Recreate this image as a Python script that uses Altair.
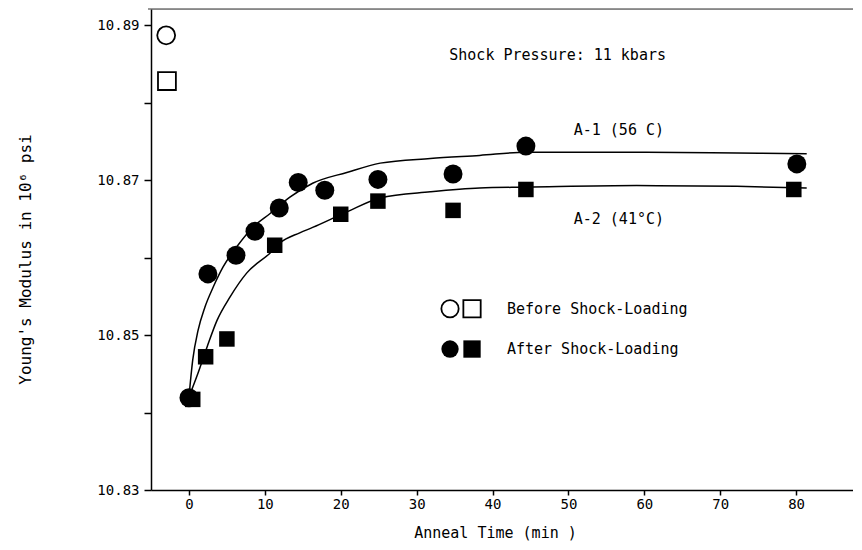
import altair as alt
import pandas as pd

# ---- data ----
# After shock-loading, A-1 (56 C) : circles
a1_time = [0.0, 2.5, 6.2, 8.7, 11.9, 14.4, 17.9, 24.9, 34.8, 44.4, 80.1]
a1_mod = [10.8419, 10.8579, 10.8603, 10.8634, 10.8664, 10.8697, 10.8687, 10.8701, 10.8708, 10.8744, 10.8721]
# After shock-loading, A-2 (41 C) : squares
a2_time = [0.5, 2.2, 5.0, 11.3, 20.0, 24.9, 34.8, 44.4, 79.7]
a2_mod = [10.8417, 10.8472, 10.8495, 10.8616, 10.8656, 10.8673, 10.8661, 10.8688, 10.8688]
# Before shock-loading
before_time = [-3.0, -2.9]
before_mod = [10.8887, 10.8828]
before_shape = ["circle", "square"]

# Fitted curves (traced)
c1_time = [0.0, 0.5, 1.2, 2.1, 3.2, 4.5, 6.3, 8.4, 10.7, 13.3, 16.3, 20.8, 25.2, 31.8, 38.3, 44.5, 59.0, 72.2, 81.4]
c1_mod = [10.8420, 10.8468, 10.8506, 10.8536, 10.8562, 10.8588, 10.8614, 10.8639, 10.8657, 10.8678,
          10.8696, 10.8710, 10.8722, 10.8728, 10.8732, 10.8736, 10.8736, 10.8735, 10.8734]
c2_time = [0.0, 1.2, 2.4, 3.7, 5.4, 7.6, 10.7, 12.0, 14.6, 16.3, 20.8, 25.2, 31.8, 38.3, 44.5, 59.0, 72.2, 81.4]
c2_mod = [10.8420, 10.8451, 10.8485, 10.8519, 10.8549, 10.8580, 10.8606, 10.8619, 10.8632, 10.8639,
          10.8659, 10.8677, 10.8685, 10.8690, 10.8691, 10.8693, 10.8692, 10.8690]

x_ticks = [0, 10, 20, 30, 40, 50, 60, 70, 80]
y_ticks = [10.83, 10.84, 10.85, 10.86, 10.87, 10.88, 10.89]

notes_text = ["Shock Pressure:  11 kbars", "A-1 (56 C)", "A-2 (41\u00b0C)",
              "Before Shock-Loading", "After Shock-Loading"]
notes_x = [34.3, 50.7, 50.7, 41.9, 41.9]
notes_y = [10.8862, 10.8765, 10.8650, 10.8534, 10.8482]

legend_x = [34.4, 37.3, 34.4, 37.3]
legend_y = [10.8534, 10.8534, 10.8482, 10.8482]
legend_shape = ["circle", "square", "circle", "square"]
legend_fill = ["open", "open", "filled", "filled"]

FONT = "DejaVu Sans Mono"
XDOM = [-5, 87.5]
YDOM = [10.83, 10.8921]

curves = pd.DataFrame({
    "t": c1_time + c2_time,
    "m": c1_mod + c2_mod,
    "s": ["A-1"] * len(c1_time) + ["A-2"] * len(c2_time),
})
after1 = pd.DataFrame({"t": a1_time, "m": a1_mod})
after2 = pd.DataFrame({"t": a2_time, "m": a2_mod})
before = pd.DataFrame({"t": before_time, "m": before_mod, "shape": before_shape})
notes = pd.DataFrame({"t": notes_x, "m": notes_y, "txt": notes_text})
leg = pd.DataFrame({"t": legend_x, "m": legend_y, "shape": legend_shape, "fill": legend_fill})

xs = alt.Scale(domain=XDOM, nice=False, zero=False)
ys = alt.Scale(domain=YDOM, nice=False, zero=False)

x_enc = alt.X("t:Q", scale=xs, axis=alt.Axis(
    values=x_ticks, title="Anneal Time (min )", grid=False, tickSize=5, labelPadding=2,
    domainColor="black", tickColor="black", labelColor="black", titleColor="black",
    labelFont=FONT, labelFontSize=14, titleFont=FONT, titleFontSize=15, titleFontWeight="normal",
    titleX=344, titleY=42, titleBaseline="middle", titleAnchor="start", titleAlign="center",
    domainWidth=1.5, tickWidth=1.5, labelFlush=False))
y_enc = alt.Y("m:Q", scale=ys, axis=alt.Axis(
    values=y_ticks, title="Young's Modulus in 10\u2076 psi", grid=False, tickSize=7, labelPadding=5,
    labelExpr="round(datum.value*100) % 2 == 1 ? format(datum.value, '.2f') : ''",
    domainColor="black", tickColor="black", labelColor="black", titleColor="black",
    labelFont=FONT, labelFontSize=14, titleFont=FONT, titleFontSize=16, titleFontWeight="normal",
    titleAngle=-90, titleX=-126, titleY=250, titleAlign="center", titleBaseline="middle",
    titleAnchor="start", domainWidth=1.5, tickWidth=1.5, labelFlush=False))

lines = alt.Chart(curves).mark_line(color="black", strokeWidth=1.5, interpolate="monotone").encode(
    x=x_enc, y=y_enc, detail="s:N", order="t:Q")

pts1 = alt.Chart(after1).mark_point(shape="circle", filled=True, color="black", size=360, opacity=1).encode(
    x="t:Q", y="m:Q")
pts2 = alt.Chart(after2).mark_point(shape="square", filled=True, color="black", size=240, opacity=1).encode(
    x="t:Q", y="m:Q")
pts0 = alt.Chart(before).mark_point(filled=False, color="black", size=320, strokeWidth=1.8, opacity=1).encode(
    x="t:Q", y="m:Q",
    shape=alt.Shape("shape:N", scale=alt.Scale(domain=["circle", "square"], range=["circle", "square"]), legend=None))

leg_open = alt.Chart(leg).transform_filter("datum.fill == 'open'").mark_point(
    filled=False, color="black", size=300, strokeWidth=1.8, opacity=1).encode(
    x="t:Q", y="m:Q",
    shape=alt.Shape("shape:N", scale=alt.Scale(domain=["circle", "square"], range=["circle", "square"]), legend=None))
leg_fill = alt.Chart(leg).transform_filter("datum.fill == 'filled'").mark_point(
    filled=True, color="black", size=300, opacity=1).encode(
    x="t:Q", y="m:Q",
    shape=alt.Shape("shape:N", scale=alt.Scale(domain=["circle", "square"], range=["circle", "square"]), legend=None))

texts = alt.Chart(notes).mark_text(align="left", baseline="middle", font=FONT, fontSize=15, color="black").encode(
    x="t:Q", y="m:Q", text="txt:N")

top_border = alt.Chart(pd.DataFrame({"a": [0]})).mark_rule(color="#333333", strokeWidth=1.2).encode(
    x=alt.value(-3), x2=alt.value(702), y=alt.value(0))

chart = alt.layer(lines, pts1, pts2, pts0, leg_open, leg_fill, texts, top_border).properties(
    width=702, height=481, autosize="none",
    padding={"left": 143, "top": 1, "right": 0, "bottom": 52},
).configure_view(stroke=None).configure(background="white")

chart.save("out.html", embed_options={"renderer": "svg", "actions": False})
